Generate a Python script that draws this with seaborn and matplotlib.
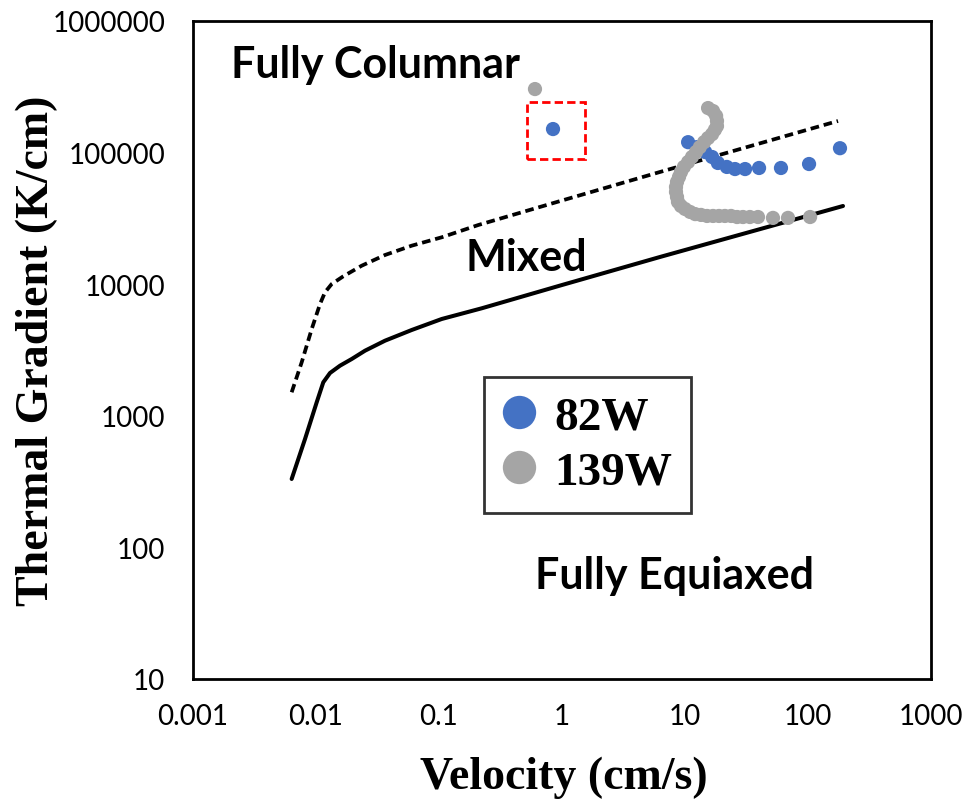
import numpy as np
import pandas as pd
import matplotlib
matplotlib.use("Agg")
import matplotlib.pyplot as plt
import seaborn as sns
from matplotlib.ticker import LogLocator, NullFormatter
from matplotlib.patches import Rectangle
from matplotlib.lines import Line2D

# ---------------- data ----------------
v_82W = [0.845, 10.6, 12.5, 14.6, 16.6, 18.5, 21.9, 25.5, 30.8, 40.0, 60.3, 102, 182]
g_82W = [151000, 120000, 110000, 101000, 92600, 83400, 77800, 75000, 75000, 76400, 76400, 81900, 108000]

v_139W = [0.603, 15.4, 16.9, 17.9, 18.2, 18.2, 17.5, 16.6, 15.4, 14.3, 13.2, 12.3, 11.4, 10.6, 9.8,
          9.27, 8.94, 8.61, 8.45, 8.45, 8.61, 8.77, 9.27, 10.0, 11.0, 12.1, 13.5, 15.1, 16.9,
          18.9, 21.1, 23.7, 26.5, 29.6, 33.7, 39.2, 51.9, 68.8, 104]
g_139W = [304000, 218000, 207000, 190000, 174000, 159000, 149000, 138000, 129000, 120000, 110000,
          101000, 92600, 84800, 77800, 71200, 65300, 59800, 54800, 50200, 46000, 42200, 39300,
          37300, 35400, 34100, 33600, 33000, 33000, 33000, 33000, 33000, 32400, 32400, 32400,
          32400, 31900, 31900, 32400]

# columnar-to-mixed boundary (dashed) and mixed-to-equiaxed boundary (solid)
v_upper = [0.00634, 0.00765, 0.00923, 0.01078, 0.01183, 0.01341, 0.01667, 0.02352, 0.0364,
           0.05998, 0.1052, 0.2087, 1.0, 6.26, 175.4]
g_upper = [1509, 2550, 4566, 7070, 8680, 10030, 11480, 13820, 16670,
           19620, 22720, 28170, 43250, 71240, 173900]
v_lower = [0.00634, 0.00814, 0.01013, 0.01146, 0.01300, 0.01567, 0.01951, 0.02503, 0.0364,
           0.05998, 0.1052, 0.2225, 1.0, 6.26, 192.6]
g_lower = [331, 666, 1266, 1797, 2115, 2403, 2701, 3124, 3722,
           4487, 5440, 6560, 9860, 16100, 39290]

box_v = [0.516, 1.54]
box_g = [89400, 241000]

xticks = [0.001, 0.01, 0.1, 1, 10, 100, 1000]
xtick_labels = ["0.001", "0.01", "0.1", "1", "10", "100", "1000"]
yticks = [10, 100, 1000, 10000, 100000, 1000000]
ytick_labels = ["10", "100", "1000", "10000", "100000", "1000000"]

series_names = ["82W", "139W"]
colors = {"82W": "#4472C4", "139W": "#A5A5A5"}

# ---------------- frames ----------------
pts = pd.DataFrame({
    "v": v_82W + v_139W,
    "g": g_82W + g_139W,
    "s": ["82W"] * len(v_82W) + ["139W"] * len(v_139W),
})
upper = pd.DataFrame({"v": v_upper, "g": g_upper})
lower = pd.DataFrame({"v": v_lower, "g": g_lower})

sns.set_style("white")
plt.rcParams["font.family"] = ["Lato", "DejaVu Sans"]
plt.rcParams["text.color"] = "black"
plt.rcParams["axes.labelcolor"] = "black"
plt.rcParams["xtick.color"] = "black"
plt.rcParams["ytick.color"] = "black"
serif = ["Liberation Serif", "DejaVu Serif"]

fig = plt.figure(figsize=(9.7, 8.04), dpi=100)
ax = fig.add_axes([193 / 970, 1 - 680 / 804, 738 / 970, 658 / 804])

ax.set_xscale("log")
ax.set_yscale("log")

sns.lineplot(data=upper, x="v", y="g", ax=ax, sort=False, estimator=None,
             color="black", lw=2.7, linestyle=(0, (2.3, 1.3)))
sns.lineplot(data=lower, x="v", y="g", ax=ax, sort=False, estimator=None,
             color="black", lw=2.9)
sns.scatterplot(data=pts, x="v", y="g", hue="s", hue_order=series_names,
                palette=colors, s=105, edgecolor="none", linewidth=0, ax=ax,
                legend=False, zorder=3)

ax.add_patch(Rectangle((box_v[0], box_g[0]), box_v[1] - box_v[0], box_g[1] - box_g[0],
                       fill=False, edgecolor="#FF0000", lw=2.0, linestyle=(0, (3, 1.5)), zorder=4))

ax.set_xlim(0.001, 1000)
ax.set_ylim(10, 1000000)
ax.set_xticks(xticks)
ax.set_xticklabels(xtick_labels)
ax.set_yticks(yticks)
ax.set_yticklabels(ytick_labels)
ax.xaxis.set_minor_locator(LogLocator(base=10, subs=np.arange(2, 10), numticks=20))
ax.yaxis.set_minor_locator(LogLocator(base=10, subs=np.arange(2, 10), numticks=20))
ax.xaxis.set_minor_formatter(NullFormatter())
ax.yaxis.set_minor_formatter(NullFormatter())
ax.tick_params(axis="both", which="both", direction="in", width=1.2, colors="black",
               labelcolor="black")
ax.tick_params(axis="both", which="major", length=5, labelsize=20)
ax.tick_params(axis="both", which="minor", length=5)
ax.tick_params(axis="x", which="major", pad=17)
ax.tick_params(axis="y", which="major", pad=20)
for sp in ax.spines.values():
    sp.set_visible(True)
    sp.set_color("black")
    sp.set_linewidth(2.0)

ax.set_xlabel("Velocity (cm/s)", fontsize=33, fontweight="bold", family=serif, color="black")
ax.set_ylabel("Thermal Gradient (K/cm)", fontsize=33, fontweight="bold", family=serif, color="black")
ax.xaxis.label.set_va("center")
ax.yaxis.label.set_va("center")
ax.xaxis.set_label_coords(0.503, -0.149)
ax.yaxis.set_label_coords(-0.211, 0.50)

ax.text(0.247, 0.935, "Fully Columnar", transform=ax.transAxes, ha="center", va="center",
        fontsize=31, fontweight="bold", color="black")
ax.text(0.451, 0.641, "Mixed", transform=ax.transAxes, ha="center", va="center",
        fontsize=31, fontweight="bold", color="black")
ax.text(0.652, 0.158, "Fully Equiaxed", transform=ax.transAxes, ha="center", va="center",
        fontsize=31, fontweight="bold", color="black")

handles = [Line2D([], [], marker="o", linestyle="none", markersize=24,
                  markerfacecolor=colors[n], markeredgecolor="none") for n in series_names]
leg = ax.legend(handles, series_names, loc="upper left",
                bbox_to_anchor=((484 - 193) / 738, (680 - 378) / 658),
                borderaxespad=0, frameon=True, fancybox=False, handlelength=0.7,
                handletextpad=0.38, labelspacing=0.25, borderpad=0.4,
                labelcolor="black",
                prop={"family": serif, "weight": "bold", "size": 34})
leg.get_frame().set_edgecolor("black")
leg.get_frame().set_linewidth(2.0)

fig.savefig("out.png", dpi=100, facecolor="white")
